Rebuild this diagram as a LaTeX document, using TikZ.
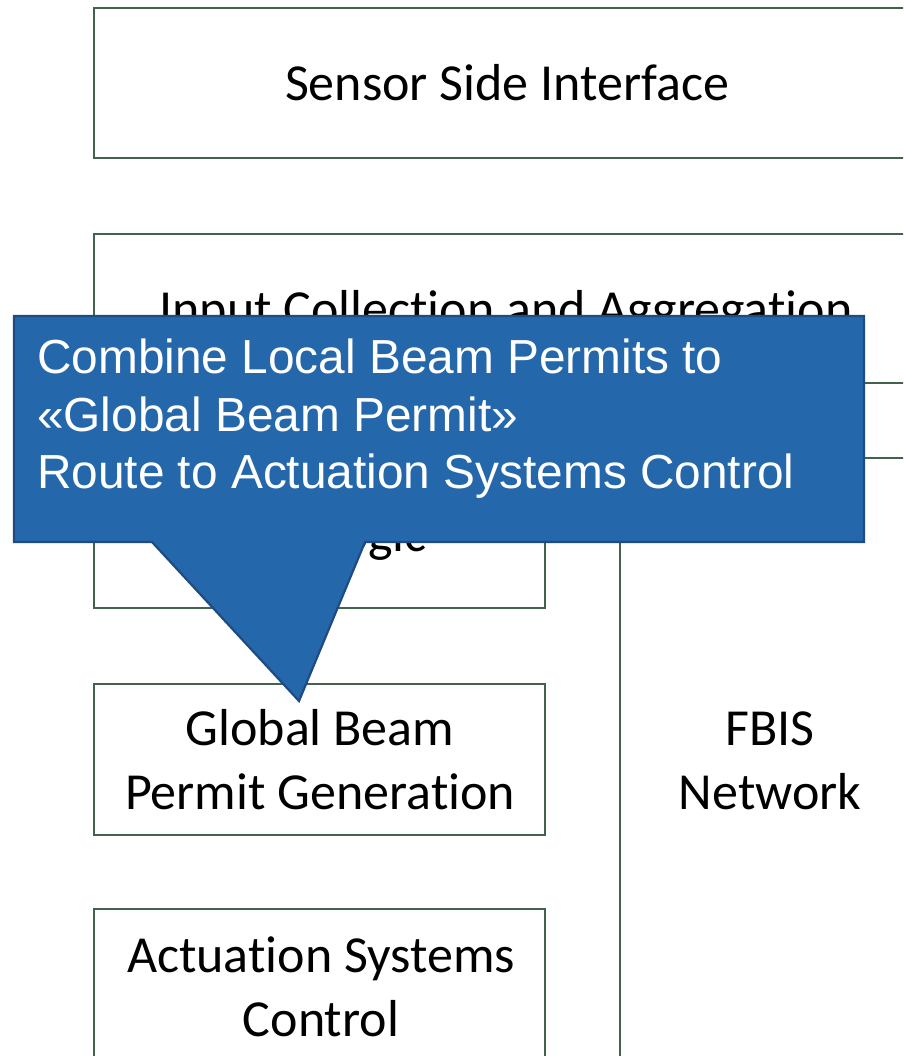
\documentclass[tikz,border=0pt]{standalone}
\usepackage{fontspec}
\setmainfont{Carlito}[Ligatures={NoCommon}]
\newfontfamily\arialfont{Liberation Sans}
\definecolor{boxline}{RGB}{68,98,74}
\definecolor{callfill}{RGB}{37,103,171}
\definecolor{callline}{RGB}{30,75,130}
\begin{document}
\begin{tikzpicture}[x=1pt,y=-1pt,
  box/.style={draw=boxline,line width=2.6pt},
  lbl/.style={font=\fontsize{52}{64}\selectfont, inner sep=0pt, anchor=base},
  ctext/.style={font=\arialfont\fontsize{47.8}{57.5}\selectfont, text=white, inner sep=0pt, anchor=base west},
  callout/.style={fill=callfill, draw=callline, line width=2.2pt, line join=miter}]
\useasboundingbox (0,0) rectangle (903,1056);
\clip (0,0) rectangle (903,1056);
\fill[white] (0,0) rectangle (903,1056);
% boxes
\draw[box] (94,8) rectangle (960,158);
\draw[box] (94,234) rectangle (960,383);
\draw[box] (94,458) rectangle (545,608);
\draw[box] (620,458) rectangle (960,1120);
\draw[box] (94,684) rectangle (545,835);
\draw[box] (94,909) rectangle (545,1120);
% labels
\node[lbl] (sensor) at (507,101) {Sensor Side Interface};
\node[lbl] (input) at (506,326) {Input Collection and Aggregation};
\node[lbl, anchor=base west] (logic) at (319,551) {Logic};
\node[lbl] (gbp1) at (320,745) {Global Beam};
\node[lbl] (gbp2) at (320,809) {Permit Generation};
\node[lbl] (act1) at (321,972) {Actuation Systems};
\node[lbl] (act2) at (321,1036) {Control};
\node[lbl] (fbis1) at (770,745) {FBIS};
\node[lbl] (fbis2) at (770,809) {Network};
% callout
\draw[callout] (14,316) -- (864,316) -- (864,542) -- (365,542) -- (299,701) -- (152,542) -- (14,542) -- cycle;
\node[ctext] (c1) at (37,373) {Combine Local Beam Permits to};
\node[ctext] (c2) at (37,431) {«Global Beam Permit»};
\node[ctext] (c3) at (37,488) {Route to Actuation Systems Control};
\end{tikzpicture}
\end{document}
